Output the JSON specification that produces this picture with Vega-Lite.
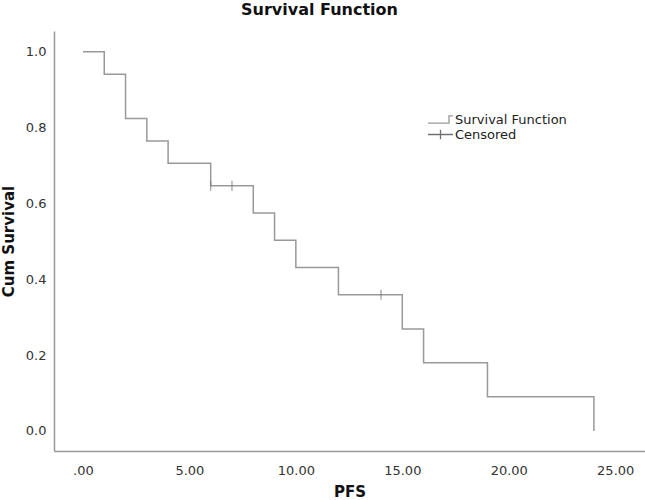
{
  "$schema": "https://vega.github.io/schema/vega-lite/v6.json",
  "width": 591,
  "height": 420,
  "autosize": {"type": "none"},
  "padding": {"left": 54, "top": 31, "right": 0, "bottom": 49},
  "background": "white",
  "title": {
    "text": "Survival Function",
    "anchor": "middle",
    "orient": "top",
    "baseline": "bottom",
    "offset": 12,
    "dx": -30,
    "dy": 15,
    "font": "DejaVu Sans",
    "fontSize": 16,
    "fontWeight": "bold",
    "color": "#111"
  },
  "config": {
    "view": {"stroke": null},
    "axis": {
      "grid": false,
      "ticks": false,
      "domainColor": "#999",
      "domainWidth": 1.5,
      "labelFont": "DejaVu Sans",
      "labelFontSize": 13,
      "labelColor": "#333",
      "titleFont": "DejaVu Sans",
      "titleFontSize": 15,
      "titleFontWeight": "bold",
      "titleColor": "#111"
    }
  },
  "datasets": {
    "km": [
      {"t": 0, "s": 1.0},
      {"t": 1, "s": 0.941},
      {"t": 2, "s": 0.824},
      {"t": 3, "s": 0.765},
      {"t": 4, "s": 0.706},
      {"t": 6, "s": 0.647},
      {"t": 8, "s": 0.575},
      {"t": 9, "s": 0.503},
      {"t": 10, "s": 0.431},
      {"t": 12, "s": 0.359},
      {"t": 15, "s": 0.269},
      {"t": 16, "s": 0.180},
      {"t": 19, "s": 0.090},
      {"t": 24, "s": 0.0}
    ],
    "cens": [
      {"t": 6, "s": 0.647},
      {"t": 7, "s": 0.647},
      {"t": 14, "s": 0.359}
    ]
  },
  "layer": [
    {
      "data": {"name": "km"},
      "transform": [{"calculate": "'Survival Function'", "as": "series"}],
      "mark": {"type": "line", "interpolate": "step-after", "strokeWidth": 1.5},
      "encoding": {
        "x": {
          "field": "t", "type": "quantitative",
          "scale": {"domain": [-1.36, 26.4], "nice": false, "zero": false},
          "axis": {
            "title": "PFS",
            "values": [0, 5, 10, 15, 20, 25],
            "labelExpr": "datum.value == 0 ? '.00' : format(datum.value, '.2f')",
            "labelPadding": 13,
            "titlePadding": 7
          }
        },
        "y": {
          "field": "s", "type": "quantitative",
          "scale": {"domain": [-0.053, 1.055], "nice": false, "zero": false},
          "axis": {
            "title": "Cum Survival",
            "values": [0, 0.2, 0.4, 0.6, 0.8, 1.0],
            "format": ".1f",
            "labelPadding": 8,
            "titlePadding": 9
          }
        },
        "color": {
          "field": "series", "type": "nominal",
          "scale": {"domain": ["Survival Function", "Censored"], "range": ["#999999", "#707070"]},
          "legend": {
            "title": null,
            "orient": "none",
            "legendX": 380,
            "legendY": 82,
            "labelFont": "DejaVu Sans",
            "labelFontSize": 13,
            "labelColor": "#222",
            "symbolSize": 100,
            "labelOffset": 8,
            "rowPadding": 0,
            "encode": {
              "symbols": {
                "update": {
                  "shape": {"signal": "datum.value === 'Censored' ? 'M-2.5,0H2.5H0V-0.95V0.95V0H-2.5' : 'M-2.5,0.72H1.7V-0.72H2.5H1.7V0.72H-2.5'"},
                  "fill": {"value": "transparent"},
                  "stroke": {"value": "#888"},
                  "strokeWidth": {"value": 1.3}
                }
              }
            }
          }
        }
      }
    },
    {
      "data": {"name": "cens"},
      "transform": [{"calculate": "'Censored'", "as": "series"}],
      "mark": {"type": "tick", "orient": "vertical", "size": 10, "thickness": 1.2},
      "encoding": {
        "x": {"field": "t", "type": "quantitative"},
        "y": {"field": "s", "type": "quantitative"},
        "color": {"field": "series", "type": "nominal"}
      }
    }
  ]
}
